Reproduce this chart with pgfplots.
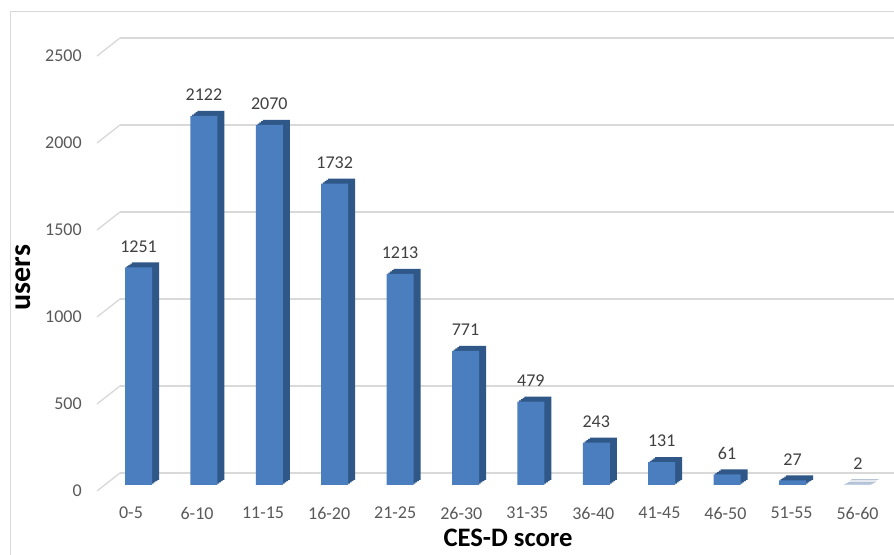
\documentclass[border=0pt]{standalone}
\usepackage{fontspec}
\setmainfont{Carlito}
\usepackage{pgfplots}
\pgfplotsset{compat=1.18}
\definecolor{barfront}{HTML}{4A7EBF}
\definecolor{barside}{HTML}{2F5788}
\definecolor{gridc}{HTML}{D9D9D9}
\definecolor{tickc}{HTML}{595959}
\definecolor{valc}{HTML}{404040}
\pgfplotstableread{
x y
0 1251
1 2122
2 2070
3 1732
4 1213
5 771
6 479
7 243
8 131
9 61
10 27
11 2
}\datatable
\begin{document}
\begin{tikzpicture}
\fill[white] (0,0) rectangle (670.5pt,416.25pt);
\path[use as bounding box] (0,0) rectangle (670.5pt,416.25pt);
\draw[gridc, line width=0.75pt] (7.5pt,-2pt) -- (7.5pt,407.25pt) -- (672pt,407.25pt);
% back wall grid
\begin{axis}[at={(90pt,61.5pt)}, anchor=south west, scale only axis,
  width=580.5pt, height=326.25pt, xmin=0, xmax=1, ymin=0, ymax=2500,
  ytick={0,500,...,2500}, xtick=\empty, yticklabels={}, ymajorgrids,
  grid style={gridc, line width=1pt}, axis line style={draw=none},
  major tick length=0pt]
\addplot[draw=none] coordinates {(0,0)};
\end{axis}
\foreach \y in {61.5,126.75,192,257.25,322.5,387.75}
  \draw[gridc, line width=1pt] (90pt,\y pt) -- ++(-17.25pt,-13.5pt);
% bars
\begin{axis}[at={(72.75pt,52.5pt)}, anchor=south west, scale only axis,
  width=597.75pt, height=326.25pt, xmin=-0.6346, xmax=11.552, ymin=0, ymax=2500,
  ytick={0,500,...,2500},
  xtick={-0.1147,0.8953,1.9052,2.9151,3.9251,4.9350,5.9450,6.9549,7.9648,8.9748,9.9847,10.9947},
  xticklabels={0-5,6-10,11-15,16-20,21-25,26-30,31-35,36-40,41-45,46-50,51-55,56-60},
  axis line style={draw=none}, major tick length=0pt, clip=false,
  /pgf/number format/assume math mode=true,
  /pgf/number format/set thousands separator={},
  ticklabel style={font=\fontsize{13.5}{16}\selectfont, text=tickc},
  yticklabel style={anchor=east, inner sep=0pt, xshift=-11.25pt, yshift=-4.5pt},
  xticklabel style={anchor=center, inner sep=0pt, yshift=-21pt},
  ]
\addplot[ybar, bar width=20.25pt, bar shift=5.25pt, fill=barside, draw=none, yshift=3.75pt] table {\datatable};
\addplot[ybar, bar width=20.25pt, bar shift=3.94pt, fill=barside, draw=none, yshift=2.81pt] table {\datatable};
\addplot[ybar, bar width=20.25pt, bar shift=2.62pt, fill=barside, draw=none, yshift=1.87pt] table {\datatable};
\addplot[ybar, bar width=20.25pt, bar shift=1.31pt, fill=barside, draw=none, yshift=0.94pt] table {\datatable};
\addplot[ybar, bar width=20.25pt, bar shift=0pt, fill=barfront, draw=none,
  nodes near coords, nodes near coords style={anchor=center, yshift=15.75pt, font=\fontsize{13.5}{16}\selectfont, text=valc}]
  table {\datatable};
\end{axis}
\node[rotate=90, font=\bfseries\fontsize{22.5}{27}\selectfont] at (17.6pt,208.1pt) {users};
\node[anchor=base, inner sep=0pt, font=\bfseries\fontsize{20}{24}\selectfont] at (381pt,6pt) {CES-D score};
\end{tikzpicture}
\end{document}
